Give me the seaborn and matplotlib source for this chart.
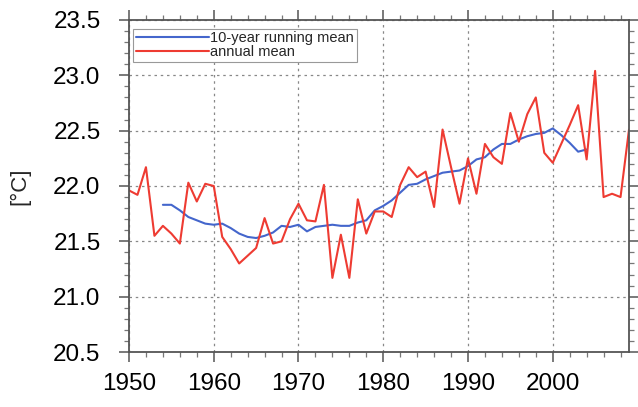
import numpy as np
import pandas as pd
import matplotlib
matplotlib.use("Agg")
import matplotlib.pyplot as plt
import seaborn as sns
from matplotlib.ticker import MultipleLocator

# ==== data ====
years = list(range(1950, 2010))
annual_mean = [21.96, 21.92, 22.17, 21.55, 21.64, 21.57, 21.48, 22.03, 21.86, 22.02,
               22.00, 21.54, 21.43, 21.30, 21.37, 21.44, 21.71, 21.48, 21.50, 21.70,
               21.84, 21.69, 21.68, 22.01, 21.17, 21.56, 21.17, 21.88, 21.57, 21.77,
               21.77, 21.72, 22.01, 22.17, 22.08, 22.13, 21.81, 22.51, 22.17, 21.84,
               22.25, 21.93, 22.38, 22.26, 22.20, 22.66, 22.40, 22.65, 22.80, 22.30,
               22.21, 22.38, 22.55, 22.73, 22.24, 23.04, 21.90, 21.93, 21.90, 22.51]

rm_years = list(range(1954, 2005))
running_mean = [21.83, 21.83, 21.78, 21.72, 21.69, 21.66, 21.65, 21.66, 21.62, 21.57,
                21.54, 21.53, 21.55, 21.58, 21.64, 21.63, 21.65, 21.59, 21.63, 21.64,
                21.65, 21.64, 21.64, 21.67, 21.69, 21.78, 21.82, 21.87, 21.94, 22.01,
                22.02, 22.06, 22.09, 22.12, 22.13, 22.14, 22.18, 22.24, 22.26, 22.33,
                22.38, 22.38, 22.42, 22.45, 22.47, 22.48, 22.52, 22.46, 22.39, 22.31,
                22.33]

x_ticks = [1950, 1960, 1970, 1980, 1990, 2000]
y_ticks = [20.5, 21.0, 21.5, 22.0, 22.5, 23.0, 23.5]

df_annual = pd.DataFrame({"year": years, "temp": annual_mean})
df_rm = pd.DataFrame({"year": rm_years, "temp": running_mean})

sns.set_style("ticks")
plt.rcParams['font.family'] = ['Liberation Sans', 'DejaVu Sans']

fig = plt.figure(figsize=(6.38, 4.07), dpi=100)
ax = fig.add_axes([0.2022, 0.1351, 0.7837, 0.8158])

# ==== lines ====
sns.lineplot(data=df_rm, x="year", y="temp", ax=ax, color="#4466cc",
             linewidth=1.5, label="10-year running mean")
sns.lineplot(data=df_annual, x="year", y="temp", ax=ax, color="#ee3b32",
             linewidth=1.5, label="annual mean")

ax.set_xlim(1950, 2009)
ax.set_ylim(20.5, 23.5)
ax.set_xticks(x_ticks)
ax.set_yticks(y_ticks)
ax.set_yticklabels([f"{v:.1f}" for v in y_ticks])
ax.xaxis.set_minor_locator(MultipleLocator(2))
ax.yaxis.set_minor_locator(MultipleLocator(0.1))

ax.grid(True, which="major", linestyle=(0, (2, 3)), color="#888888", linewidth=0.9)
ax.set_axisbelow(True)

for side in ["top", "bottom", "left", "right"]:
    ax.spines[side].set_visible(True)
    ax.spines[side].set_color("#555555")
    ax.spines[side].set_linewidth(1.3)

ax.tick_params(which="major", direction="out", length=7, width=1.1, color="#555555",
               top=True, right=True, labelsize=17.5, labelcolor="black")
ax.tick_params(which="minor", direction="out", length=3.5, width=0.9, color="#777777",
               top=True, right=True)
ax.tick_params(axis="x", which="major", pad=8)
ax.tick_params(axis="y", which="major", pad=13.5)

ax.set_xlabel("")
ax.set_ylabel("[°C]", fontsize=16)
ax.yaxis.set_label_coords(-0.198, 0.5)

leg = ax.legend(loc="upper left", bbox_to_anchor=(0.003, 0.983), fontsize=10.5,
                handlelength=5.0, handletextpad=0.05, labelspacing=0.0,
                borderpad=0.2, borderaxespad=0.2, fancybox=False, framealpha=1)
leg.get_frame().set_edgecolor("#999999")
leg.get_frame().set_linewidth(0.8)

fig.savefig("out.png", dpi=100)
